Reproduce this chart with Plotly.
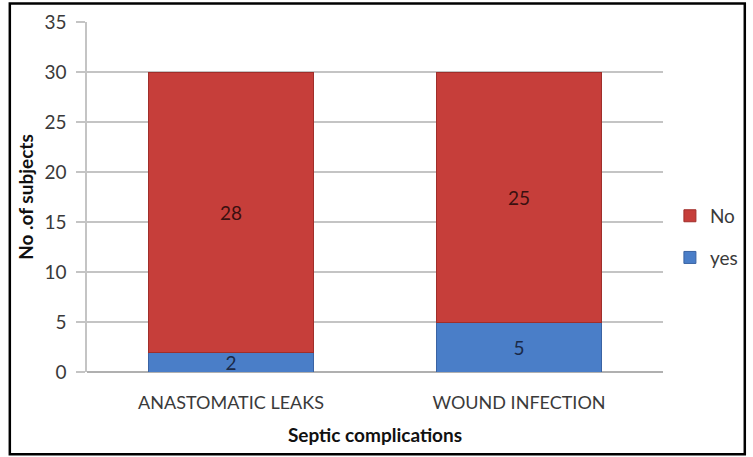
import plotly.graph_objects as go

# Septic complications by category, split into yes / No counts
categories = ["ANASTOMATIC LEAKS", "WOUND INFECTION"]
yes_counts = [2, 5]
no_counts = [28, 25]

FONT = "Lato"
TEXT = "#3a3a3a"

fig = go.Figure()

fig.add_trace(go.Bar(
    name="yes",
    x=categories,
    y=yes_counts,
    text=[str(v) for v in yes_counts],
    textposition="inside",
    insidetextanchor="middle",
    textangle=0,
    constraintext="none",
    textfont=dict(family=FONT, size=19, color="#1a2a48"),
    marker=dict(color="#4a7ec8", line=dict(color="#3a63a3", width=1)),
    legendgroup="yes",
    legendrank=2,
))
fig.add_trace(go.Bar(
    name="No",
    x=categories,
    y=no_counts,
    text=[str(v) for v in no_counts],
    textposition="inside",
    insidetextanchor="middle",
    textangle=0,
    constraintext="none",
    textfont=dict(family=FONT, size=19, color="#3a1010"),
    marker=dict(color="#c63e3a", line=dict(color="#a02e2a", width=1)),
    legendgroup="No",
    legendrank=1,
))

fig.update_layout(
    width=753,
    height=457,
    barmode="stack",
    bargap=0.425,
    plot_bgcolor="white",
    paper_bgcolor="white",
    margin=dict(l=87, r=90, t=22, b=85, autoexpand=False),
    font=dict(family=FONT, size=18, color=TEXT),
    showlegend=True,
    legend=dict(
        x=1.012, y=0.386, xanchor="left", yanchor="middle",
        traceorder="grouped",
        tracegroupgap=14,
        font=dict(family=FONT, size=19, color=TEXT),
        itemwidth=30,
        bgcolor="rgba(0,0,0,0)",
    ),
    xaxis=dict(
        showgrid=False,
        showline=False,
        ticks="",
        ticklabelstandoff=18,
        tickfont=dict(family=FONT, size=18, color=TEXT),
        title=dict(text="<b>Septic complications</b>",
                   font=dict(family=FONT, size=19, color="#111"),
                   standoff=16),
    ),
    yaxis=dict(
        range=[0, 35],
        dtick=5,
        showgrid=True,
        gridcolor="#c4c4c4",
        gridwidth=1.5,
        showline=True,
        linecolor="#c4c4c4",
        linewidth=1.5,
        ticks="outside",
        ticklen=9,
        tickcolor="#c4c4c4",
        tickwidth=1.5,
        ticklabelstandoff=6,
        zeroline=True,
        zerolinecolor="#b0b0b0",
        zerolinewidth=1.5,
        tickfont=dict(family=FONT, size=19, color=TEXT),
        title=dict(text="<b>No .of subjects</b>",
                   font=dict(family=FONT, size=19, color="#111"),
                   standoff=6),
    ),
    shapes=[dict(
        type="rect", xref="paper", yref="paper",
        x0=-0.134, x1=1.142, y0=-0.235, y1=1.053,
        line=dict(color="black", width=2.5),
        fillcolor="rgba(0,0,0,0)", layer="below",
    )],
)

fig.write_html("out.html")
